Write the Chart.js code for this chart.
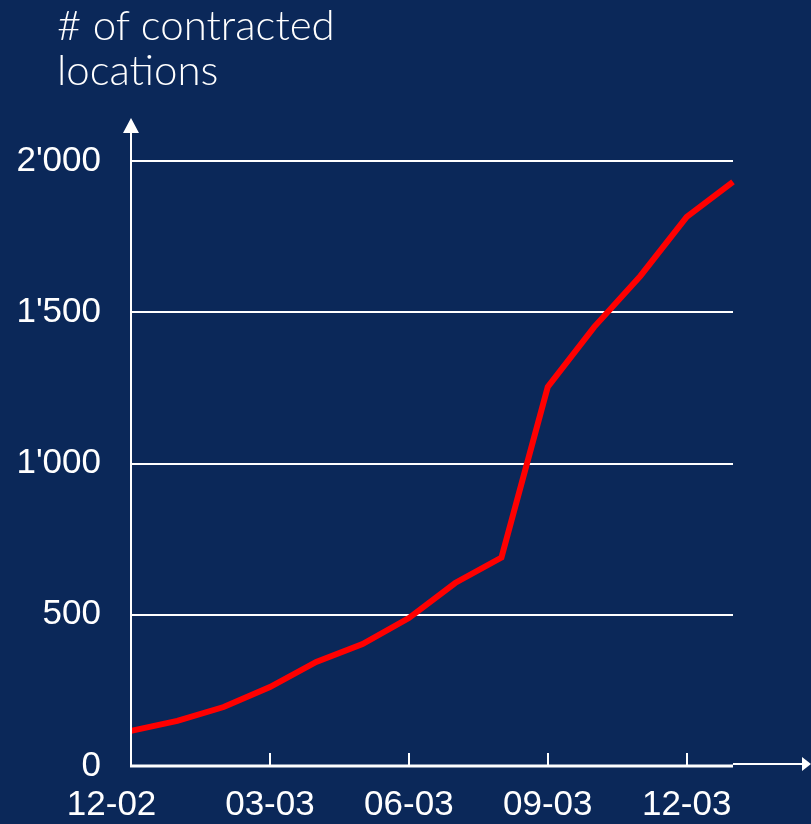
<!DOCTYPE html>
<html>
<head>
<meta charset="utf-8">
<script src="https://cdn.jsdelivr.net/npm/chart.js@4.4.1/dist/chart.umd.min.js"></script>
<style>
  html, body { margin: 0; padding: 0; background: #0b2859; }
  #wrap { position: relative; width: 811px; height: 824px; overflow: hidden; }
  #title { position: absolute; left: 57px; top: 2px; color: #ffffff;
           font-family: "Lato", "Open Sans", sans-serif; font-weight: 300;
           font-size: 42px; line-height: 45px; }
  canvas { position: absolute; left: 0; top: 0; }
</style>
</head>
<body>
<div id="wrap">
  <canvas id="c" width="811" height="824"></canvas>
  <div id="title"># of contracted<br>locations</div>
</div>
<script>
const months = ['12-02','01-03','02-03','03-03','04-03','05-03','06-03','07-03','08-03','09-03','10-03','11-03','12-03','01-04'];
const locations = [116, 149, 195, 261, 344, 403, 489, 605, 689, 1253, 1451, 1620, 1815, 1931];
const yTicks = [0, 500, 1000, 1500, 2000];
const labelledMonths = ['12-02','03-03','06-03','09-03','12-03'];

const WHITE = '#ffffff';
const FONT = { family: '"Liberation Sans", Arial, sans-serif', size: 35 };

function fmt(v) {
  if (v >= 1000) {
    const th = Math.floor(v / 1000), rest = String(v % 1000).padStart(3, '0');
    return th + "'" + rest;
  }
  return String(v);
}

const axisDecor = {
  id: 'axisDecor',
  afterDraw(chart) {
    const { ctx, chartArea, scales } = chart;
    const x = scales.x;
    const left = chartArea.left, bottom = chartArea.bottom;
    ctx.save();
    ctx.strokeStyle = WHITE; ctx.fillStyle = WHITE;
    // y axis line extension + arrow
    ctx.lineWidth = 2;
    ctx.beginPath(); ctx.moveTo(left, bottom); ctx.lineTo(left, 132); ctx.stroke();
    ctx.beginPath(); ctx.moveTo(left, 118); ctx.lineTo(left - 8, 133); ctx.lineTo(left + 8, 133); ctx.closePath(); ctx.fill();
    // x axis main line
    ctx.lineWidth = 3;
    ctx.beginPath(); ctx.moveTo(left - 1, bottom); ctx.lineTo(chartArea.right, bottom); ctx.stroke();
    // x arrow extension
    ctx.lineWidth = 2;
    ctx.beginPath(); ctx.moveTo(chartArea.right, bottom - 2); ctx.lineTo(803, bottom - 2); ctx.stroke();
    ctx.beginPath(); ctx.moveTo(811, bottom - 2); ctx.lineTo(802, bottom - 9); ctx.lineTo(802, bottom + 5); ctx.closePath(); ctx.fill();
    // small tick marks on x axis
    ctx.lineWidth = 2;
    labelledMonths.slice(1).forEach(m => {
      const px = Math.round(x.getPixelForValue(months.indexOf(m)));
      ctx.beginPath(); ctx.moveTo(px, bottom); ctx.lineTo(px, bottom - 13); ctx.stroke();
    });
    ctx.restore();
  }
};

new Chart(document.getElementById('c'), {
  type: 'line',
  data: {
    labels: months,
    datasets: [{
      data: locations,
      borderColor: '#ff0000',
      borderWidth: 6,
      pointRadius: 0,
      tension: 0,
      fill: false,
      clip: false,
      borderJoinStyle: 'miter'
    }]
  },
  options: {
    responsive: false,
    animation: false,
    devicePixelRatio: 1,
    layout: { padding: { top: 161, right: 78, bottom: 0, left: 0 } },
    plugins: { legend: { display: false }, tooltip: { enabled: false }, title: { display: false } },
    scales: {
      x: {
        type: 'category',
        offset: false,
        grid: { display: false, drawTicks: false },
        border: { display: false },
        ticks: {
          autoSkip: false, maxRotation: 0, minRotation: 0,
          color: WHITE, font: FONT, padding: 18,
          callback: function(v, i) {
            const lab = months[i];
            if (!labelledMonths.includes(lab)) return '';
            return i === 0 ? lab + '    ' : lab;
          }
        },
        afterFit(scale) { scale.height = 58; }
      },
      y: {
        min: 0, max: 2000,
        afterBuildTicks(scale) { scale.ticks = yTicks.map(v => ({ value: v })); },
        grid: {
          drawTicks: false,
          color: ctx => ctx.tick && ctx.tick.value === 0 ? 'rgba(0,0,0,0)' : WHITE,
          lineWidth: 2
        },
        border: { display: true, color: WHITE, width: 2 },
        ticks: { color: WHITE, font: FONT, padding: 30, callback: v => fmt(v) },
        afterFit(scale) { scale.width = 131; }
      }
    }
  },
  plugins: [axisDecor]
});
</script>
</body>
</html>
